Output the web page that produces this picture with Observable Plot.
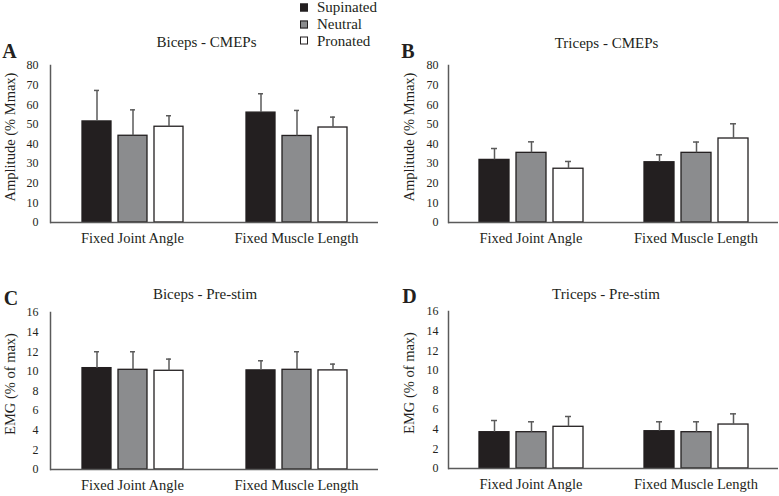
<!DOCTYPE html>
<html>
<head>
<meta charset="utf-8">
<script src="https://cdn.jsdelivr.net/npm/d3@7"></script>
<script src="https://cdn.jsdelivr.net/npm/@observablehq/plot@0.6"></script>
<style>
  html, body { margin: 0; padding: 0; background: #fff; }
  #wrap { position: relative; width: 779px; height: 496px; background: #fff; overflow: hidden;
          font-family: "Liberation Serif", "Times New Roman", serif; color: #231f20; }
  .panel { position: absolute; }
  .ttl { position: absolute; font-size: 15px; line-height: 1; white-space: nowrap; transform: translate(-50%, -50%); }
  .letter { position: absolute; font-size: 20px; font-weight: bold; line-height: 1; transform: translate(-50%, -50%); }
  .leg { position: absolute; left: 300px; font-size: 15px; line-height: 1; white-space: nowrap; display: flex; align-items: center; transform: translateY(-50%); }
  .sw { width: 6px; height: 6px; border: 1.5px solid #231f20; margin-right: 9px; }
</style>
</head>
<body>
<div id="wrap"></div>
<script>
// ---- data ----
const groups = ["Fixed Joint Angle", "Fixed Muscle Length"];
const conditions = ["Supinated", "Neutral", "Pronated"];

// order: [FJA-Sup, FJA-Neu, FJA-Pro, FML-Sup, FML-Neu, FML-Pro]
const bicepsCmepMean = [51.5, 44.2, 48.8, 56.0, 44.1, 48.4];
const bicepsCmepSd   = [15.8, 13.2, 5.6, 9.6, 13.0, 5.3];
const tricepsCmepMean = [31.9, 35.5, 27.4, 30.7, 35.5, 42.8];
const tricepsCmepSd   = [5.8, 5.6, 3.7, 3.8, 5.5, 7.5];
const bicepsPreMean = [10.33, 10.16, 10.06, 10.10, 10.16, 10.10];
const bicepsPreSd   = [1.67, 1.84, 1.19, 0.98, 1.84, 0.64];
const tricepsPreMean = [3.70, 3.70, 4.25, 3.80, 3.70, 4.48];
const tricepsPreSd   = [1.19, 1.06, 1.05, 0.96, 1.06, 1.09];

const cmepTicks = [0, 10, 20, 30, 40, 50, 60, 70, 80];
const preTicks = [0, 2, 4, 6, 8, 10, 12, 14, 16];

const panelLetters = ["A", "B", "C", "D"];
const panelTitles = ["Biceps - CMEPs", "Triceps - CMEPs", "Biceps - Pre-stim", "Triceps - Pre-stim"];
const yLabels = ["Amplitude (% Mmax)", "Amplitude (% Mmax)", "EMG (% of max)", "EMG (% of max)"];

// ---- styles ----
const fills = ["#231f20", "#8b8c8e", "#ffffff"];
const barStroke = "#231f20";
const errColor = "#5a5a5a";
const axisColor = "#5a5a5a";
const serif = '"Liberation Serif", "Times New Roman", serif';

const panels = [
  {means: bicepsCmepMean, sds: bicepsCmepSd, ticks: cmepTicks,
   left: 0, top: 0, width: 390, height: 250, mL: 49, mR: 12, mT: 65, mB: 28, tickPad: 12, labelX: 3,
   titleX: 206.5, titleY: 42, letterX: 9.5, letterY: 50.5},
  {means: tricepsCmepMean, sds: tricepsCmepSd, ticks: cmepTicks,
   left: 390, top: 0, width: 389, height: 250, mL: 58, mR: 1, mT: 65, mB: 28, tickPad: 10, labelX: 13,
   titleX: 606.5, titleY: 42.5, letterX: 408, letterY: 51},
  {means: bicepsPreMean, sds: bicepsPreSd, ticks: preTicks,
   left: 0, top: 250, width: 390, height: 246, mL: 49, mR: 12, mT: 62, mB: 27, tickPad: 12, labelX: 3,
   titleX: 205, titleY: 294, letterX: 11, letterY: 298},
  {means: tricepsPreMean, sds: tricepsPreSd, ticks: preTicks,
   left: 390, top: 250, width: 389, height: 246, mL: 58, mR: 1, mT: 61, mB: 28, tickPad: 10, labelX: 13,
   titleX: 606, titleY: 293.7, letterX: 409.5, letterY: 296}
];

const wrap = document.getElementById("wrap");

panels.forEach((p, pi) => {
  const rows = [];
  groups.forEach((g, gi) => conditions.forEach((c, ci) => {
    const k = gi * conditions.length + ci;
    rows.push({group: g, cond: c, mean: p.means[k], sd: p.sds[k]});
  }));
  const chart = Plot.plot({
    width: p.width, height: p.height,
    marginLeft: p.mL, marginRight: p.mR, marginTop: p.mT, marginBottom: p.mB,
    style: {fontFamily: serif, fontSize: "12px", color: "#231f20", background: "transparent", overflow: "visible"},
    fx: {domain: groups, padding: 0},
    x: {domain: conditions, paddingInner: 0.2, paddingOuter: 0.82, axis: null},
    y: {domain: [0, p.ticks[p.ticks.length - 1]]},
    color: {domain: conditions, range: fills},
    marks: [
      Plot.barY(rows, {fx: "group", x: "cond", y: "mean", fill: "cond", stroke: barStroke, strokeWidth: 1.3}),
      Plot.ruleX(rows, {fx: "group", x: "cond", y1: "mean", y2: d => d.mean + d.sd, stroke: errColor, strokeWidth: 1.5}),
      Plot.tickY(rows, {fx: "group", x: "cond", y: d => d.mean + d.sd, insetLeft: 12, insetRight: 12, stroke: errColor, strokeWidth: 1.5}),
      Plot.ruleY([0], {stroke: axisColor, strokeWidth: 1.5}),
      Plot.frame({anchor: "left", facetAnchor: "left", stroke: axisColor, strokeWidth: 1.5}),
      Plot.axisY({ticks: p.ticks, tickSize: 0, tickPadding: p.tickPad, label: null, fontSize: 12}),
      Plot.axisFx({anchor: "bottom", tickSize: 0, tickPadding: 10, label: null, fontSize: 14.5}),
      Plot.text([yLabels[pi]], {fx: () => groups[0], frameAnchor: "left", rotate: -90, lineAnchor: "top",
        textAnchor: "middle", dx: -(p.mL - p.labelX), dy: -7, fontSize: 14.5, fill: "#231f20"})
    ]
  });
  const div = document.createElement("div");
  div.className = "panel";
  div.style.left = p.left + "px";
  div.style.top = p.top + "px";
  div.appendChild(chart);
  wrap.appendChild(div);

  const t = document.createElement("div");
  t.className = "ttl";
  t.style.left = p.titleX + "px";
  t.style.top = p.titleY + "px";
  t.textContent = panelTitles[pi];
  wrap.appendChild(t);

  const l = document.createElement("div");
  l.className = "letter";
  l.style.left = p.letterX + "px";
  l.style.top = p.letterY + "px";
  l.textContent = panelLetters[pi];
  wrap.appendChild(l);
});

// legend
const legendY = [7, 24, 40.5];
conditions.forEach((c, i) => {
  const row = document.createElement("div");
  row.className = "leg";
  row.style.top = legendY[i] + "px";
  const sw = document.createElement("span");
  sw.className = "sw";
  sw.style.background = fills[i];
  row.appendChild(sw);
  const tx = document.createElement("span");
  tx.textContent = c;
  row.appendChild(tx);
  wrap.appendChild(row);
});
</script>
</body>
</html>
